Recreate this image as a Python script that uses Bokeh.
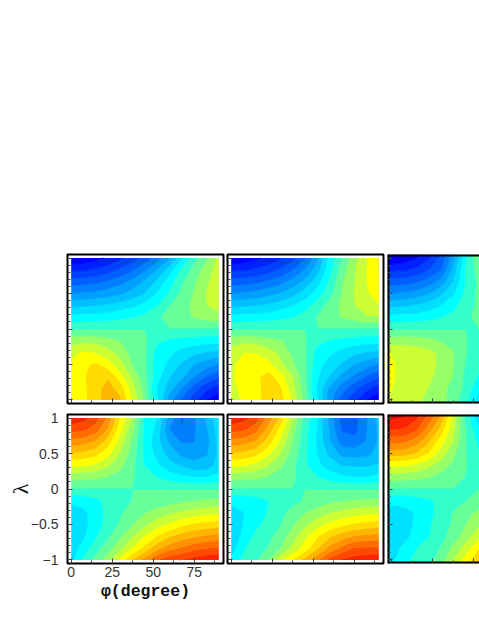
import numpy as np
from bokeh.embed import file_html
from bokeh.layouts import column, row
from bokeh.models import CustomLabelingPolicy, FixedTicker, LinearAxis, Range1d
from bokeh.plotting import figure
from bokeh.resources import INLINE

phi_full = [0, 7.5, 15, 22.5, 30, 37.5, 45, 52.5, 60, 67.5, 75, 82.5, 90]
phi_cut = [-2.6, 7.5, 15, 22.5, 30, 37.5, 45, 52.5, 60]
lam_full = [1, 5/6, 4/6, 3/6, 2/6, 1/6, 0, -1/6, -2/6, -3/6, -4/6, -5/6, -1]
lam_cut = [1.05, 5/6, 4/6, 3/6, 2/6, 1/6, 0, -1/6, -2/6, -3/6, -4/6, -5/6, -1.05]

x_major = [0, 25, 50, 75]
x_minor = [12.5, 37.5, 62.5, 87.5]
y_major = [-1, -0.5, 0, 0.5, 1]
y_minor = [-0.9, -0.8, -0.7, -0.6, -0.4, -0.3, -0.2, -0.1, 0.1, 0.2, 0.3, 0.4, 0.6, 0.7, 0.8, 0.9]
y_labels = {-1: "\u22121", -0.5: "\u22120.5", 0: "0", 0.5: "0.5", 1: "1"}

levels = [-5] + list(range(1, 21)) + [25]
colors = ["#0000FF", "#0020FF", "#0040FF", "#0060FF", "#0080FF", "#00A0FF", "#00C0FF", "#00E0FF",
          "#00FFFF", "#33FFCC", "#66FF99", "#99FF66", "#CCFF33", "#FFFF00", "#FFDB00", "#FFB600",
          "#FF9200", "#FF6D00", "#FF4900", "#FF2400", "#FF0000"]

panel_1 = [
    [0.1, 0.3, 0.7, 1.2, 1.8, 2.5, 3.4, 4.5, 5.9, 8.0, 9.7, 10.9, 12.3],
    [1.8, 1.9, 2.2, 2.6, 3.2, 3.9, 4.9, 6.1, 7.6, 9.3, 10.4, 11.5, 12.6],
    [3.5, 3.6, 3.8, 4.2, 4.7, 5.4, 6.2, 7.3, 8.6, 9.9, 10.9, 11.8, 12.9],
    [5.1, 5.2, 5.3, 5.6, 5.9, 6.4, 7.1, 8.1, 9.2, 10.3, 11.1, 12.1, 12.9],
    [6.8, 6.85, 7.0, 7.2, 7.5, 7.85, 8.4, 9.0, 10.0, 10.6, 11.3, 12.0, 12.6],
    [8.4, 8.45, 8.5, 8.6, 8.8, 9.0, 9.3, 9.9, 10.3, 10.7, 11.1, 11.5, 11.6],
    [10, 10, 10, 10, 10, 10, 10, 10, 10, 10, 10, 10, 10],
    [11.6, 11.8, 11.7, 11.4, 11.0, 10.5, 10.2, 9.2, 8.9, 8.7, 8.6, 8.5, 8.5],
    [12.7, 13.2, 13.0, 12.4, 11.6, 10.7, 10.2, 8.6, 8.2, 7.7, 7.3, 7.0, 6.8],
    [13.2, 13.8, 14.2, 13.5, 12.4, 11.0, 10.2, 8.5, 7.8, 6.9, 6.0, 5.5, 5.0],
    [13.4, 13.9, 14.6, 14.9, 13.4, 11.8, 10.3, 8.5, 7.1, 6.3, 5.1, 4.1, 3.3],
    [13.3, 13.8, 14.7, 15.4, 14.6, 12.5, 10.6, 8.0, 6.5, 5.0, 3.5, 2.3, 1.6],
    [13.0, 13.8, 14.7, 15.5, 15.2, 13.0, 10.9, 8.3, 5.6, 3.8, 2.4, 1.1, 0.1],
]
panel_2 = [
    [0.1, 0.4, 0.8, 1.3, 1.9, 2.7, 3.9, 5.8, 8.5, 10.0, 11.7, 13.0, 14.1],
    [1.8, 1.9, 2.2, 2.6, 3.2, 4.0, 5.1, 6.6, 8.8, 10.6, 11.9, 13.0, 14.1],
    [3.5, 3.6, 3.8, 4.2, 4.7, 5.4, 6.3, 7.6, 9.2, 10.9, 12.0, 13.0, 13.9],
    [5.1, 5.2, 5.4, 5.7, 6.1, 6.7, 7.5, 8.5, 9.7, 11.1, 12.1, 12.9, 13.5],
    [6.8, 6.85, 7.0, 7.2, 7.6, 8.0, 8.6, 9.5, 10.4, 11.3, 12.0, 12.7, 13.0],
    [8.4, 8.45, 8.5, 8.6, 8.8, 9.0, 9.5, 10.1, 10.6, 11.1, 11.5, 11.9, 12.0],
    [10, 10, 10, 10, 10, 10, 10, 10, 10, 10, 10, 10, 10],
    [11.6, 11.8, 11.7, 11.4, 11.1, 10.6, 10.1, 9.3, 9.0, 8.8, 8.6, 8.5, 8.5],
    [12.5, 13.0, 13.0, 12.5, 11.8, 10.8, 10.2, 8.7, 8.2, 7.7, 7.3, 7.0, 6.8],
    [12.8, 13.4, 13.8, 13.4, 12.3, 11.2, 10.2, 8.5, 7.6, 6.9, 6.0, 5.5, 5.0],
    [12.9, 13.4, 13.8, 14.4, 13.5, 12.1, 10.3, 8.2, 7.0, 5.8, 4.9, 4.0, 3.3],
    [12.8, 13.3, 13.7, 14.5, 14.2, 12.4, 10.5, 7.9, 5.9, 4.5, 3.4, 2.4, 1.6],
    [12.3, 13.2, 13.7, 14.4, 14.5, 12.9, 10.6, 8.2, 5.5, 3.6, 2.3, 1.0, 0.1],
]
panel_3 = [
    [-0.5, 0.0, 0.6, 1.6, 3.0, 5.5, 8.8, 11.0, 12.0],
    [1.8, 1.9, 2.3, 3.0, 4.0, 6.5, 9.2, 10.4, 11.5],
    [3.5, 3.6, 3.9, 4.5, 5.4, 7.1, 9.1, 10.2, 11.2],
    [5.1, 5.2, 5.5, 6.0, 6.8, 7.9, 9.3, 10.2, 11.0],
    [6.8, 6.9, 7.1, 7.5, 8.0, 8.7, 9.6, 10.2, 10.8],
    [8.4, 8.45, 8.5, 8.7, 9.0, 9.3, 9.85, 10.2, 10.5],
    [10, 10, 10, 10, 10, 10, 10, 10, 10],
    [11.6, 11.7, 11.6, 11.4, 11.0, 10.6, 10.1, 9.6, 9.2],
    [13.1, 12.6, 12.5, 12.3, 11.8, 11.1, 10.1, 9.5, 9.0],
    [13.3, 12.7, 12.6, 12.4, 11.8, 11.1, 10.0, 9.4, 8.9],
    [13.3, 12.7, 12.6, 12.3, 11.6, 11.0, 9.9, 9.0, 8.2],
    [13.2, 12.6, 12.5, 12.0, 11.4, 10.7, 9.8, 8.4, 7.3],
    [13.0, 12.4, 12.1, 11.8, 11.3, 10.6, 9.3, 7.7, 6.5],
]
panel_4 = [
    [19.9, 19.4, 18.5, 16.8, 14.0, 11.9, 8.95, 8.0, 5.7, 3.9, 4.9, 6.3, 7.9],
    [18.4, 18.2, 17.5, 15.9, 13.4, 11.3, 8.9, 7.7, 5.0, 4.1, 4.9, 5.9, 7.6],
    [16.7, 16.5, 15.9, 14.6, 12.6, 10.8, 8.8, 7.4, 5.9, 4.9, 5.0, 5.7, 7.4],
    [15.0, 14.8, 14.4, 13.4, 12.0, 10.6, 8.8, 7.7, 6.6, 5.7, 5.5, 5.9, 7.3],
    [13.3, 13.2, 12.9, 12.2, 11.3, 10.3, 9.0, 8.2, 7.4, 6.9, 6.4, 6.5, 7.4],
    [11.5, 11.4, 11.3, 11.0, 10.7, 10.1, 9.5, 9.0, 8.6, 8.3, 8.1, 8.1, 8.4],
    [10, 10, 10, 10, 10, 10, 10, 10, 10, 10, 10, 10, 10],
    [8.3, 8.4, 8.8, 9.3, 9.7, 10.05, 10.3, 10.45, 10.6, 10.9, 11.05, 11.2, 11.3],
    [7.5, 7.8, 8.6, 9.3, 9.9, 10.5, 11.0, 11.5, 11.9, 12.2, 12.5, 12.7, 12.9],
    [7.2, 7.7, 8.6, 9.4, 10.2, 11.0, 11.8, 12.6, 13.2, 13.8, 14.2, 14.4, 14.6],
    [7.2, 7.9, 8.9, 9.9, 10.9, 12.0, 13.1, 14.1, 14.9, 15.5, 15.9, 16.2, 16.4],
    [7.4, 8.5, 9.6, 10.6, 11.8, 13.1, 14.4, 15.7, 16.6, 17.2, 17.7, 18.0, 18.2],
    [7.7, 9.3, 10.4, 11.6, 13.4, 15.1, 16.5, 18.0, 18.8, 19.05, 19.5, 19.8, 19.9],
]
panel_5 = [
    [19.9, 19.4, 18.6, 16.6, 14.9, 12.1, 9.7, 8.1, 5.7, 3.7, 3.6, 5.0, 6.5],
    [18.4, 18.2, 17.4, 15.7, 13.7, 11.5, 9.5, 8.0, 6.0, 3.9, 3.7, 5.0, 6.2],
    [16.7, 16.5, 15.9, 14.6, 12.9, 11.0, 9.4, 7.9, 6.1, 4.6, 4.4, 5.1, 6.2],
    [15.0, 14.8, 14.4, 13.3, 12.1, 10.7, 9.3, 8.0, 6.8, 5.7, 5.6, 5.7, 6.4],
    [13.3, 13.2, 12.8, 12.1, 11.2, 10.3, 9.2, 8.3, 7.5, 7.0, 6.9, 6.9, 7.2],
    [11.5, 11.4, 11.3, 11.0, 10.6, 10.2, 9.6, 9.1, 8.6, 8.3, 8.1, 8.1, 8.4],
    [10, 10, 10, 10, 10, 10, 10, 10, 10, 10, 10, 10, 10],
    [8.3, 8.4, 8.6, 9.0, 9.4, 9.8, 10.1, 10.5, 10.8, 11.0, 11.1, 11.2, 11.3],
    [7.6, 8.0, 8.5, 9.1, 9.8, 10.3, 11.0, 11.5, 12.0, 12.3, 12.6, 12.8, 12.9],
    [7.3, 8.1, 8.8, 9.3, 10.0, 10.9, 11.8, 12.6, 13.3, 13.8, 14.2, 14.4, 14.6],
    [7.3, 8.3, 9.3, 9.7, 10.5, 11.6, 12.8, 13.9, 14.9, 15.6, 16.1, 16.3, 16.4],
    [7.6, 8.9, 9.5, 10.1, 11.0, 12.3, 13.5, 14.9, 16.3, 17.3, 18.1, 18.2, 18.2],
    [8.2, 9.3, 9.9, 11.0, 12.8, 14.0, 15.4, 16.9, 18.4, 19.2, 19.5, 19.7, 19.9],
]
panel_6 = [
    [20.6, 20.3, 19.5, 17.9, 16.2, 13.0, 9.7, 7.2, 5.5],
    [19.1, 18.9, 18.2, 16.5, 14.6, 12.4, 10.1, 8.5, 7.2],
    [17.4, 17.2, 16.5, 15.2, 13.5, 12.0, 10.1, 8.9, 7.9],
    [15.7, 15.5, 15.0, 14.0, 12.6, 11.3, 10.1, 9.2, 8.4],
    [13.3, 13.2, 12.9, 12.3, 11.6, 10.8, 10.1, 9.4, 8.9],
    [11.6, 11.5, 11.4, 11.1, 10.7, 10.3, 10.0, 9.6, 9.3],
    [10, 10, 10, 10, 10, 10, 10, 10, 10],
    [8.3, 8.4, 8.6, 8.9, 9.2, 9.6, 10.0, 10.3, 10.6],
    [7.5, 7.7, 8.1, 8.8, 9.3, 10.1, 10.7, 11.2, 11.8],
    [7.2, 7.6, 8.2, 8.9, 9.5, 10.2, 11.0, 11.8, 12.5],
    [7.2, 7.7, 8.4, 9.0, 9.7, 10.5, 11.5, 12.6, 13.6],
    [7.5, 8.2, 9.0, 9.4, 10.1, 11.3, 12.5, 13.8, 15.0],
    [7.6, 8.8, 9.4, 9.8, 10.8, 12.3, 13.8, 15.3, 16.6],
]


def panel(rows, xs, ys, col, bottom):
    left = {0: 67, 1: 2, 2: 2}[col]
    right = {0: 2, 1: 2, 2: 0}[col]
    frame_w = 92 if col == 2 else 156
    top_border, bot_border = (6, 48) if bottom else (254, 5)
    x_start = -2.6 if col == 2 else -2.25
    x_range = Range1d(x_start, 53.5) if col == 2 else Range1d(x_start, 92.85)
    p = figure(width=left + frame_w + right, height=top_border + 149 + bot_border,
               x_range=x_range, y_range=Range1d(-1.05, 1.05),
               min_border_left=left, min_border_right=right,
               min_border_top=top_border, min_border_bottom=bot_border,
               output_backend="svg", toolbar_location=None,
               background_fill_color="white", border_fill_color="white")
    p.grid.visible = False
    z = np.array(rows, dtype=float)[::-1]
    p.contour(np.array(xs, dtype=float), np.array(ys, dtype=float)[::-1], z, levels,
              fill_color=colors, line_color=[colors[0]] + colors, line_width=1, fill_alpha=1.0)

    xax, yax = p.below[0], p.left[0]
    for ax, major, minor in ((xax, x_major, x_minor), (yax, y_major, y_minor)):
        ax.ticker = FixedTicker(ticks=major, minor_ticks=minor)
        ax.major_tick_in = 5
        ax.major_tick_out = 0
        ax.minor_tick_in = 3
        ax.minor_tick_out = 0
        ax.major_tick_line_color = "#444444"
        ax.minor_tick_line_color = "#444444"
        ax.major_tick_line_width = 1
        ax.minor_tick_line_width = 1
        ax.axis_line_color = None
        ax.major_label_text_font = "Liberation Sans"
        ax.major_label_text_font_size = "14px"
        ax.major_label_text_color = "#333333"

    if col == 2:
        p.outline_line_color = None
        for ax in (xax, yax):
            ax.axis_line_color = "black"
            ax.axis_line_width = 4
        top_axis = LinearAxis(ticker=FixedTicker(ticks=[]), axis_line_color="black",
                              axis_line_width=4, major_tick_line_color=None, minor_tick_line_color=None,
                              fixed_location=1.05,
                              major_label_policy=CustomLabelingPolicy(code="return []"))
        p.add_layout(top_axis, "above")
    else:
        p.outline_line_color = "black"
        p.outline_line_width = 2
        p.outline_line_alpha = 1

    if bottom and col == 0:
        xax.major_label_standoff = 3
        yax.major_label_standoff = 9
        yax.major_label_overrides = y_labels
        xax.axis_label = "\u03c6(degree)"
        xax.axis_label_text_font = "Liberation Mono"
        xax.axis_label_text_font_style = "bold"
        xax.axis_label_text_font_size = "16.5px"
        xax.axis_label_text_color = "#111111"
        xax.axis_label_standoff = 2
        yax.axis_label = "\u03bb"
        yax.axis_label_text_font = "Liberation Serif"
        yax.axis_label_text_font_style = "normal"
        yax.axis_label_text_font_size = "22px"
        yax.axis_label_text_color = "#111111"
        yax.axis_label_standoff = -5
    else:
        xax.fixed_location = -1.05
        yax.fixed_location = x_start
        for ax in (xax, yax):
            ax.major_label_policy = CustomLabelingPolicy(code="return []")
    return p


top_row = row(panel(panel_1, phi_full, lam_full, 0, False),
              panel(panel_2, phi_full, lam_full, 1, False),
              panel(panel_3, phi_cut, lam_cut, 2, False), spacing=0)
bottom_row = row(panel(panel_4, phi_full, lam_full, 0, True),
                 panel(panel_5, phi_full, lam_full, 1, True),
                 panel(panel_6, phi_cut, lam_cut, 2, True), spacing=0)
layout = column(top_row, bottom_row, spacing=0)

open("out.html", "w").write(file_html(layout, INLINE))
